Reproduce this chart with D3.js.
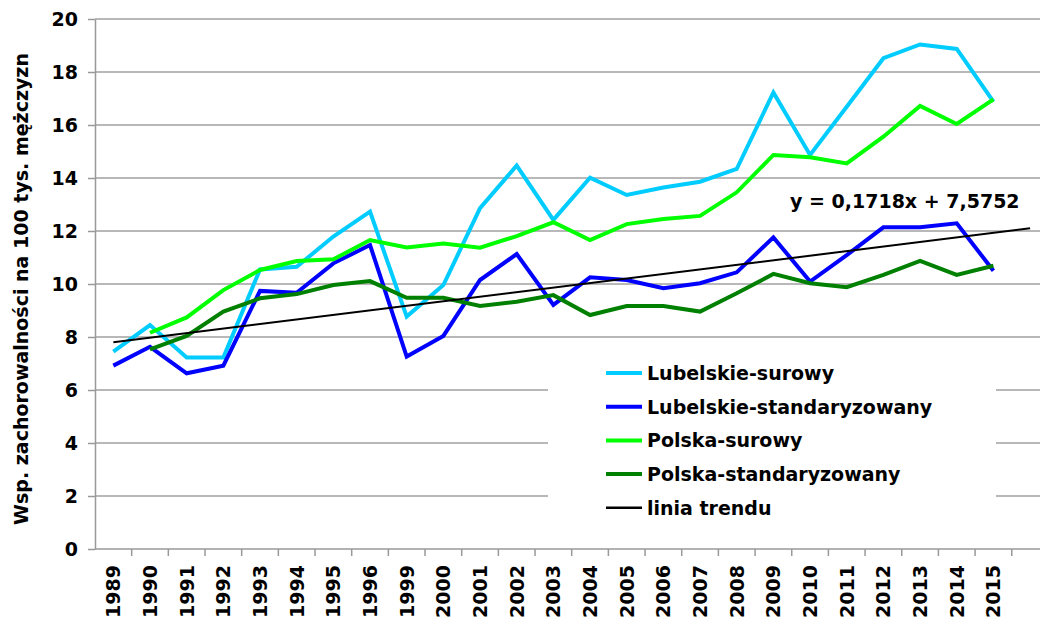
<!DOCTYPE html>
<meta charset="utf-8">
<style>
body { margin: 0; background: #fff; }
text { font-family: "DejaVu Sans", Verdana, sans-serif; font-weight: bold; fill: #000; }
.axis path, .axis line { stroke: #999; stroke-width: 1.5; }
</style>
<div id="chart"></div>
<script src="https://d3js.org/d3.v7.min.js"></script>
<script>
// categories (1997 and 1998 are missing in the source)
var years = ["1989","1990","1991","1992","1993","1994","1995","1996","1999","2000","2001","2002",
             "2003","2004","2005","2006","2007","2008","2009","2010","2011","2012","2013","2014","2015"];

var lubSurowy = [7.45,8.45,7.23,7.23,10.55,10.65,11.79,12.73,8.77,9.96,12.86,14.47,12.42,
                 14.01,13.36,13.64,13.86,14.34,17.23,14.87,16.69,18.52,19.04,18.87,16.88];
var lubStd    = [6.92,7.63,6.63,6.92,9.74,9.67,10.78,11.47,7.26,8.04,10.15,11.13,9.21,
                 10.25,10.15,9.84,10.03,10.44,11.76,10.09,11.09,12.14,12.14,12.29,10.50];
var plSurowy  = [null,8.16,8.74,9.77,10.53,10.87,10.93,11.66,11.38,11.53,11.37,11.81,12.33,
                 11.66,12.26,12.45,12.57,13.46,14.87,14.78,14.55,15.56,16.72,16.04,16.97];
var plStd     = [null,7.53,8.04,8.96,9.46,9.62,9.96,10.11,9.48,9.48,9.17,9.33,9.58,
                 8.83,9.17,9.17,8.96,9.65,10.38,10.03,9.88,10.34,10.87,10.34,10.69];

// trend line end points (first category and one period forward)
var trendCats = ["1989", "next"];
var trendVals = [7.80, 12.10];
var trendLabel = "y = 0,1718x + 7,5752";

var yTicks = [0,2,4,6,8,10,12,14,16,18,20];

var series = [
  {name: "Lubelskie-surowy", values: lubSurowy, color: "#00ccff", width: 4},
  {name: "Lubelskie-standaryzowany", values: lubStd, color: "#0000ff", width: 4},
  {name: "Polska-surowy", values: plSurowy, color: "#00ff00", width: 4},
  {name: "Polska-standaryzowany", values: plStd, color: "#008000", width: 4}
];

var W = 1040, H = 619;
var plotLeft = 95, plotTop = 19, plotBottom = 549, step = 36.67;
var fs = "19px";

var svg = d3.select("#chart").append("svg")
    .attr("width", W).attr("height", H);

var cats = years.concat(["next"]);
var x = d3.scaleBand().domain(cats).range([plotLeft, plotLeft + step * cats.length]);
var y = d3.scaleLinear().domain([0, 20]).range([plotBottom, plotTop]);

// horizontal grid
svg.append("g").selectAll("line")
  .data(yTicks.filter(function(d) { return d > 0; }))
  .enter().append("line")
    .attr("x1", plotLeft).attr("x2", W)
    .attr("y1", function(d) { return y(d); })
    .attr("y2", function(d) { return y(d); })
    .attr("stroke", "#a0a0a0").attr("stroke-width", 1.5);

// y axis
var yAxis = svg.append("g").attr("class", "axis")
    .attr("transform", "translate(" + plotLeft + ",0)")
    .call(d3.axisLeft(y).tickValues(yTicks).tickSize(7).tickPadding(10).tickSizeOuter(0));
yAxis.selectAll("text").style("font-size", fs).style("font-family", "DejaVu Sans");

// x axis: line, boundary ticks, labels at band centres
var xAxis = svg.append("g").attr("class", "axis")
    .attr("transform", "translate(0," + plotBottom + ")")
    .call(d3.axisBottom(x).tickSize(0).tickSizeOuter(0)
      .tickFormat(function(d) { return d === "next" ? "" : d; }));
xAxis.select(".domain").attr("d", "M" + plotLeft + ",0H" + W);
xAxis.selectAll("text")
    .style("font-size", fs).style("font-family", "DejaVu Sans")
    .attr("transform", "rotate(-90)")
    .attr("x", -16).attr("y", 0).attr("dy", "0.36em")
    .style("text-anchor", "end");
xAxis.selectAll(".bound").data(cats).enter().append("line")
    .attr("class", "bound")
    .attr("x1", function(d) { return x(d) + x.bandwidth(); })
    .attr("x2", function(d) { return x(d) + x.bandwidth(); })
    .attr("y1", 0).attr("y2", 7)
    .attr("stroke", "#999").attr("stroke-width", 1.5);

// y axis title
svg.append("text")
    .attr("transform", "translate(28," + ((plotTop + plotBottom) / 2 + 5) + ") rotate(-90)")
    .style("text-anchor", "middle").style("font-size", fs)
    .text("Wsp. zachorowalności na 100 tys. mężczyzn");

// legend background (hides the grid behind it)
svg.append("rect").attr("x", 548).attr("y", 346).attr("width", 448).attr("height", 180)
    .attr("fill", "#fff");

// data lines
var line = d3.line()
    .defined(function(d) { return d.v != null; })
    .x(function(d) { return x(d.c) + x.bandwidth() / 2; })
    .y(function(d) { return y(d.v); });

series.forEach(function(s) {
  svg.append("path")
    .datum(years.map(function(c, i) { return {c: c, v: s.values[i]}; }))
    .attr("d", line)
    .attr("fill", "none")
    .attr("stroke", s.color)
    .attr("stroke-width", s.width);
});

// trend line
svg.append("path")
  .datum(trendCats.map(function(c, i) { return {c: c, v: trendVals[i]}; }))
  .attr("d", line)
  .attr("fill", "none").attr("stroke", "#000").attr("stroke-width", 2);

svg.append("text").attr("x", 790).attr("y", 208).style("font-size", fs).text(trendLabel);

// legend
var legendItems = series.map(function(s) { return {name: s.name, color: s.color, width: 4}; })
  .concat([{name: "linia trendu", color: "#000", width: 2.5}]);
var lg = svg.append("g").selectAll("g").data(legendItems).enter().append("g")
    .attr("transform", function(d, i) { return "translate(606," + (373 + i * 33.7) + ")"; });
lg.append("line").attr("x1", 0).attr("x2", 36).attr("y1", 0).attr("y2", 0)
    .attr("stroke", function(d) { return d.color; })
    .attr("stroke-width", function(d) { return d.width; });
lg.append("text").attr("x", 41).attr("dy", "0.36em").style("font-size", fs)
    .text(function(d) { return d.name; });
</script>
